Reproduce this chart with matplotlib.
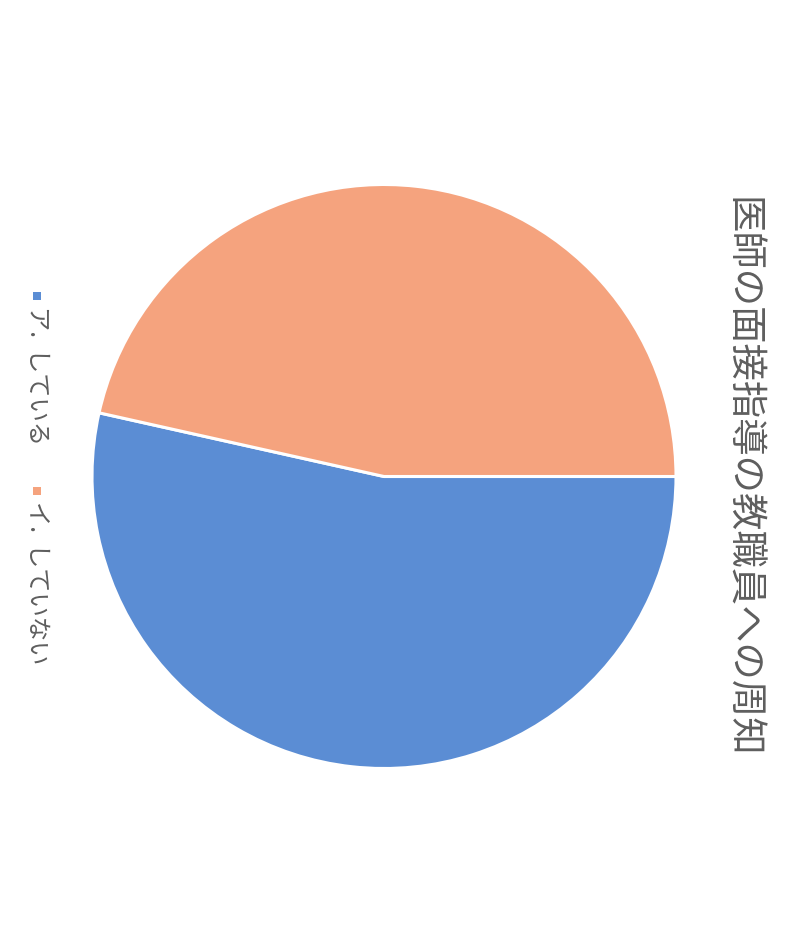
import matplotlib
matplotlib.use("Agg")
import matplotlib.pyplot as plt
from matplotlib.patches import Rectangle

plt.rcParams['font.family'] = ['Noto Sans CJK JP', 'DejaVu Sans']

title = "医師の面接指導の教職員への周知"
labels = ["ア. している", "イ. していない"]
shares = [53.5, 46.5]
colors = ["#5B8DD4", "#F5A37E"]
text_color = "#5E5E5E"

W, H = 803, 931
fig = plt.figure(figsize=(W / 100, H / 100), dpi=100)

# pie area: centre and radius in pixels
cx, cy, r = 384, 476.5, 292
ax = fig.add_axes([(cx - r) / W, (H - cy - r) / H, 2 * r / W, 2 * r / H])
ax.pie(shares, colors=colors, startangle=0, counterclock=False, radius=1,
       wedgeprops=dict(edgecolor="white", linewidth=2.2))
ax.set_xlim(-1, 1)
ax.set_ylim(-1, 1)
ax.set_aspect("equal")
ax.axis("off")

# title, turned a quarter-turn clockwise with the whole chart
fig.text(741 / W, 1 - 477 / H, title, rotation=-90, ha="center", va="center",
         fontsize=26.9, color=text_color)

# legend entries, also turned clockwise
entry_y = [296, 491]
for lab, col, y in zip(labels, colors, entry_y):
    s = 8
    fig.patches.append(Rectangle(((37 - s / 2) / W, 1 - (y + s / 2) / H), s / W, s / H,
                                 transform=fig.transFigure, facecolor=col,
                                 edgecolor="none"))
    fig.text(37 / W, 1 - (y + 10) / H, lab.replace(" ", "  "), rotation=-90,
             ha="center", va="top", fontsize=17.5, color=text_color)

fig.savefig("out.png", dpi=100, facecolor="white")
